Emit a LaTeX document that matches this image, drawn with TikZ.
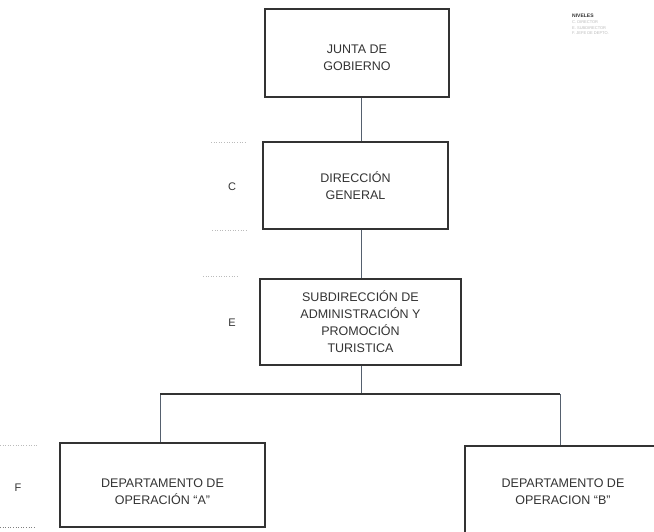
\documentclass[tikz,border=0pt]{standalone}
\usepackage{fontspec}
\setmainfont{Liberation Sans}
\usetikzlibrary{positioning}
\definecolor{ink}{HTML}{333333}
\definecolor{edgeline}{HTML}{55606E}
\definecolor{guide}{HTML}{BBBBBB}
\tikzset{
box/.style={draw=ink, line width=1.2pt, text=ink, align=center,
  font=\fontsize{12.5}{17}\selectfont, inner sep=0pt},
link/.style={draw=edgeline, line width=0.7pt},
level/.style={text=ink, font=\fontsize{11}{13}\selectfont},
guideline/.style={draw=guide, dotted, line width=0.6pt},
}
\newcommand{\lowtext}[1]{\rule{0pt}{#1}}

\begin{document}
\begin{tikzpicture}[x=1pt, y=-1pt]
    \clip (0,0) rectangle (654,531);
    \fill[white] (0,0) rectangle (654,531);

    \node[box, minimum width=184pt, minimum height=88pt] (junta) at (357,53) {\lowtext{19pt}JUNTA DE\\GOBIERNO};
    \node[box, minimum width=185pt, minimum height=87pt] (dirgen) at (355.5,185.5) {DIRECCIÓN\\GENERAL};
    \node[box, minimum width=201pt, minimum height=86pt] (subdir) at (360.5,322) {SUBDIRECCIÓN DE\\ADMINISTRACIÓN Y\\PROMOCIÓN\\TURISTICA};
    \node[box, minimum width=205pt, minimum height=84pt] (depA) at (162.5,485) {\lowtext{23pt}DEPARTAMENTO DE\\OPERACIÓN ``A''};
    \node[box, minimum width=196pt, minimum height=90pt] (depB) at (563,491) {\lowtext{11pt}DEPARTAMENTO DE\\OPERACION ``B''};

    % niveles
    \node[level] (nivC) at (232,187) {C};
    \node[level] (nivE) at (232,323) {E};
    \node[level] (nivF) at (18,488) {F};

    % leyenda
    \node[anchor=west, text=ink, font=\fontsize{5}{5}\bfseries, inner sep=0pt] (ley) at (572,16) {NIVELES};
    \node[anchor=north west, text=guide, align=left, inner sep=0pt,
      font=\fontsize{4}{5.5}\selectfont] (leytxt) at ([yshift=-3pt]ley.south west) {C. DIRECTOR\\E. SUBDIRECTOR\\F. JEFE DE DEPTO.};

    \coordinate (split) at (361,394);
    \coordinate (busL) at (160,394);
    \coordinate (busR) at (560,394);

    \draw[link]
    (junta.south -| 361,0) -- (dirgen.north -| 361,0)
    (dirgen.south -| 361,0) -- (subdir.north -| 361,0)
    (subdir.south -| split) -- (split)
    (busL) -- (busL |- depA.north)
    (busR) -- (busR |- depB.north)
    ;
    \draw[ink, line width=1.3pt] (busL) -- (busR);

    % marcas de nivel
    \draw[guideline] (211,142) -- (247,142);
    \draw[guideline] (212,230) -- (247,230);
    \draw[guideline] (203,276) -- (237,276);
    \draw[guideline] (0,445) -- (38,445);
    \draw[guideline, draw=gray] (0,527) -- (34,527);
\end{tikzpicture}
\end{document}
